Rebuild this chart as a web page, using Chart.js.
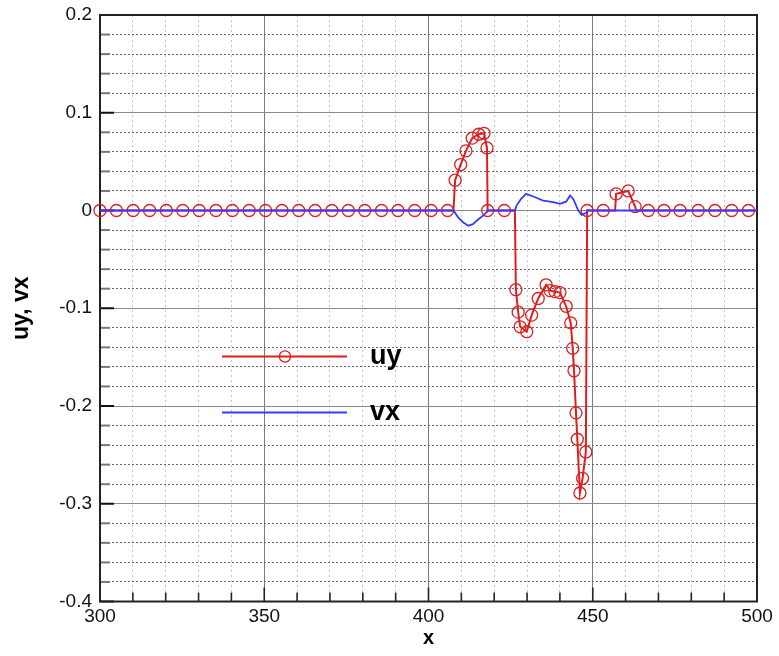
<!DOCTYPE html>
<html><head><meta charset="utf-8">
<script src="https://cdn.jsdelivr.net/npm/chart.js@4.4.1/dist/chart.umd.min.js"></script>
<style>html,body{margin:0;padding:0;background:#fff}#wrap{width:779px;height:656px;position:relative}</style>
</head><body><div id="wrap"><canvas id="c" width="779" height="656"></canvas></div>
<script>
// ---- data ----
const xTickLabels = [300, 350, 400, 450, 500];
const yTickLabels = [-0.4, -0.3, -0.2, -0.1, 0, 0.1, 0.2];
const seriesNames = ['uy', 'vx'];
const axisTitles = ['x', 'uy, vx'];

const uyLineX = [300, 407.6, 408.1, 409.8, 411.4, 413.3, 415.3, 416.9, 417.8, 418.0, 426.3, 426.6, 427.3, 427.9, 429.9, 431.4, 433.4, 435.8, 437.0, 438.5, 440.0, 441.9, 443.3, 443.9, 444.3, 444.9, 445.3, 446.1, 446.9, 447.9, 448.3, 456.8, 457.1, 460.8, 462.9, 463.2, 500];
const uyLineY = [0, 0, 0.031, 0.047, 0.061, 0.074, 0.078, 0.079, 0.064, 0, 0, -0.081, -0.104, -0.119, -0.124, -0.107, -0.090, -0.076, -0.082, -0.083, -0.084, -0.098, -0.115, -0.141, -0.164, -0.207, -0.234, -0.289, -0.274, -0.247, 0, 0, 0.017, 0.020, 0.004, 0, 0];

const uyMarkX = [300, 305, 310.1, 315.1, 320.2, 325.2, 330.2, 335.3, 340.3, 345.4, 350.4, 355.4, 360.5, 365.5, 370.6, 375.6, 380.6, 385.7, 390.7, 395.8, 400.8, 405.8,
  408.1, 409.8, 411.4, 413.3, 415.3, 416.9, 417.8, 418.0, 423.1,
  426.6, 427.3, 427.9, 429.9, 431.4, 433.4, 435.8, 437.0, 438.5, 440.0, 441.9, 443.3, 443.9, 444.3, 444.9, 445.3, 446.1, 446.9, 447.9,
  448.3, 453.2, 457.1, 460.8, 462.9, 466.9, 471.7, 476.6, 482.1, 487.2, 492.3, 497.4];
const uyMarkY = [0, 0, 0, 0, 0, 0, 0, 0, 0, 0, 0, 0, 0, 0, 0, 0, 0, 0, 0, 0, 0, 0,
  0.031, 0.047, 0.061, 0.074, 0.078, 0.079, 0.064, 0, 0,
  -0.081, -0.104, -0.119, -0.124, -0.107, -0.090, -0.076, -0.082, -0.083, -0.084, -0.098, -0.115, -0.141, -0.164, -0.207, -0.234, -0.289, -0.274, -0.247,
  0, 0, 0.017, 0.020, 0.004, 0, 0, 0, 0, 0, 0, 0];

const vxX = [300, 407.6, 409.0, 410.5, 412.1, 413.5, 415.0, 416.7, 418.2, 426.3, 426.8, 428.2, 429.7, 431.9, 434.9, 438.0, 440.0, 441.9, 443.1, 444.1, 445.6, 446.6, 447.6, 448.2, 448.3, 500];
const vxY = [0, 0, -0.007, -0.012, -0.0155, -0.014, -0.0095, -0.005, 0, 0, 0.005, 0.012, 0.017, 0.0143, 0.0102, 0.0085, 0.0068, 0.009, 0.0154, 0.0116, 0, -0.0045, -0.003, -0.002, 0, 0];

// ---- build ----
const zip = (xs, ys) => xs.map((x, i) => ({x: x, y: ys[i]}));
const RED = 'rgb(222,30,30)';
const BLUE = 'rgb(55,60,250)';
const FONT = '"Liberation Sans", Arial, sans-serif';
const near = (a, b) => Math.abs(a - b) < 1e-9;
const isMajorX = v => xTickLabels.some(t => near(t, v));
const isMajorY = v => yTickLabels.some(t => near(t, v));

const framePlugin = {
  id: 'frameTicks',
  beforeDatasetsDraw(chart) {
    const {ctx, chartArea: a, scales} = chart;
    ctx.save();
    scales.y.ticks.forEach(t => {
      const py = scales.y.getPixelForValue(t.value);
      const maj = isMajorY(t.value);
      ctx.beginPath();
      ctx.lineWidth = 2;
      ctx.strokeStyle = maj ? '#111' : '#777';
      ctx.moveTo(a.left, py);
      ctx.lineTo(a.left + (maj ? 14 : 10), py);
      ctx.stroke();
    });
    scales.x.ticks.forEach(t => {
      const px = scales.x.getPixelForValue(t.value);
      const maj = isMajorX(t.value);
      ctx.beginPath();
      ctx.lineWidth = 1.6;
      ctx.strokeStyle = '#222';
      ctx.moveTo(px, a.bottom);
      ctx.lineTo(px, a.bottom - (maj ? 14 : 9));
      ctx.stroke();
    });
    ctx.lineWidth = 2;
    ctx.strokeStyle = '#222';
    ctx.strokeRect(a.left, a.top, a.right - a.left, a.bottom - a.top);
    ctx.restore();
  },
  afterDatasetsDraw(chart) {
    const {ctx} = chart;
    ctx.save();
    const rows = [
      {name: seriesNames[0], color: RED, y: 356.5, marker: true, lw: 2},
      {name: seriesNames[1], color: BLUE, y: 412.5, marker: false, lw: 1.8}
    ];
    rows.forEach(r => {
      ctx.beginPath();
      ctx.strokeStyle = r.color;
      ctx.lineWidth = r.lw;
      ctx.moveTo(222, r.y);
      ctx.lineTo(347, r.y);
      ctx.stroke();
      if (r.marker) {
        ctx.beginPath();
        ctx.lineWidth = 1.3;
        ctx.arc(285, r.y, 5.6, 0, Math.PI * 2);
        ctx.stroke();
      }
      ctx.fillStyle = '#000';
      ctx.font = 'bold 27px ' + FONT;
      ctx.textBaseline = 'alphabetic';
      ctx.textAlign = 'left';
      ctx.fillText(r.name, 370, r.y + 7.5);
    });
    ctx.restore();
  }
};

new Chart(document.getElementById('c'), {
  type: 'scatter',
  data: {
    datasets: [
      {label: seriesNames[1], data: zip(vxX, vxY), showLine: true, borderColor: BLUE, borderWidth: 1.8, pointRadius: 0, fill: false, tension: 0},
      {label: seriesNames[0] + ' markers', data: zip(uyMarkX, uyMarkY), showLine: false, pointStyle: 'circle', pointRadius: 6, pointBorderWidth: 1.3, pointBorderColor: RED, pointBackgroundColor: 'rgba(0,0,0,0)', clip: false},
      {label: seriesNames[0], data: zip(uyLineX, uyLineY), showLine: true, borderColor: RED, borderWidth: 2, pointRadius: 0, fill: false, tension: 0}
    ]
  },
  options: {
    responsive: false,
    animation: false,
    devicePixelRatio: 1,
    layout: {padding: {left: 0, right: 22, top: 15, bottom: 0}},
    plugins: {legend: {display: false}, tooltip: {enabled: false}},
    scales: {
      x: {
        type: 'linear', min: 300, max: 500,
        afterFit: s => { s.height = 54.5; s.paddingLeft = 0; s.paddingRight = 0; },
        ticks: {
          stepSize: 10, autoSkip: false, maxRotation: 0, minRotation: 0, padding: 4,
          color: '#111', font: {family: FONT, size: 19},
          callback: v => isMajorX(v) ? String(v) : ''
        },
        grid: {
          drawTicks: false, lineWidth: 1,
          color: c => (c.tick && isMajorX(c.tick.value)) ? '#7a7a7a' : '#c4c4c4'
        },
        border: {display: false, dash: c => (c.tick && isMajorX(c.tick.value)) ? [] : [2, 3]},
        title: {display: true, text: axisTitles[0], color: '#000', font: {family: FONT, size: 20, weight: 'bold'}, padding: {top: 0, bottom: 6}}
      },
      y: {
        type: 'linear', min: -0.4, max: 0.2,
        afterFit: s => { s.width = 100; s.paddingTop = 0; s.paddingBottom = 0; },
        ticks: {
          stepSize: 0.02, autoSkip: false, padding: 8,
          color: '#111', font: {family: FONT, size: 19},
          callback: v => {
            const t = yTickLabels.find(l => near(l, v));
            return t === undefined ? '' : String(t);
          }
        },
        grid: {
          drawTicks: false, lineWidth: 1,
          color: c => (c.tick && isMajorY(c.tick.value)) ? '#8a8a8a' : '#666'
        },
        border: {display: false, dash: c => (c.tick && isMajorY(c.tick.value)) ? [] : [2, 2]},
        title: {display: true, text: axisTitles[1], color: '#000', font: {family: FONT, size: 23, weight: 'bold'}, padding: {top: 8, bottom: 0}}
      }
    }
  },
  plugins: [framePlugin]
});
</script></body></html>
